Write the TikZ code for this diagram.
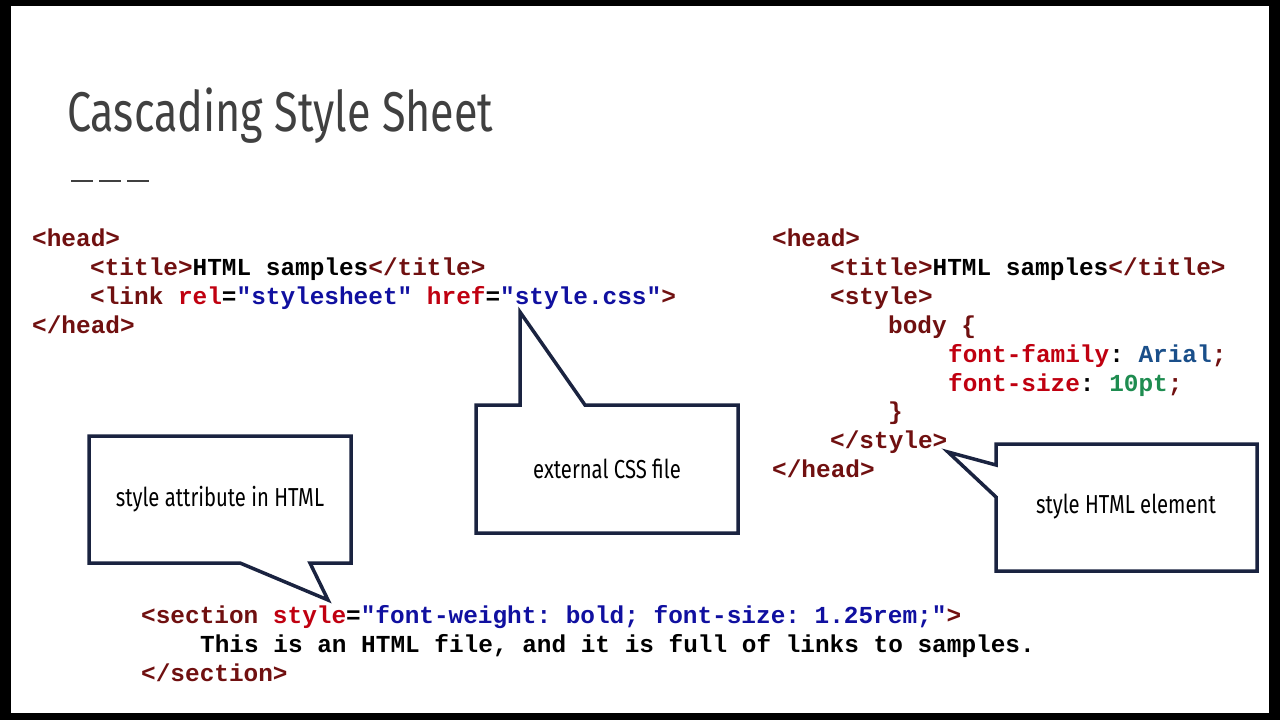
\documentclass[tikz,border=0pt]{standalone}
\usepackage{fontspec}
\usepackage{graphicx}
\setmainfont{Fira Sans}
\newfontfamily\codefont{Liberation Mono}[BoldFont={Liberation Mono Bold}]
\definecolor{tagc}{HTML}{701010}
\definecolor{attc}{HTML}{C00010}
\definecolor{strc}{HTML}{1010A0}
\definecolor{arialc}{HTML}{1A4F8A}
\definecolor{numc}{HTML}{1E8C50}
\definecolor{boxc}{HTML}{1A2340}
\definecolor{titc}{HTML}{404040}
\newcommand{\tg}[1]{\textcolor{tagc}{#1}}
\newcommand{\atr}[1]{\textcolor{attc}{#1}}
\newcommand{\sr}[1]{\textcolor{strc}{#1}}
\newcommand{\narrow}[1]{\scalebox{0.78}[1]{#1}}
\frenchspacing
\begin{document}
\begin{tikzpicture}[x=1pt,y=-1pt,
  code/.style={anchor=base west,inner sep=0,font=\codefont\bfseries\fontsize{24.4}{28}\selectfont},
  callout/.style={draw=boxc,line width=3.5pt,fill=white,line join=miter},
  ctext/.style={font=\fontsize{26}{30}\selectfont,text=black}]
\useasboundingbox (0,0) rectangle (1280,720);
\fill[black] (0,0) rectangle (1280,720);
\fill[white] (11,6) rectangle (1269,713);
\node (title) [anchor=base west,inner sep=0,text=titc,font=\fontsize{56}{60}\selectfont] at (67,131) {\scalebox{0.77}[1]{Cascading Style Sheet}};
\foreach \i/\x in {1/71,2/99,3/127}{\draw[titc,line width=2pt] (\x,181) -- ++(22,0) coordinate (d\i);}
% left code
\node (l1) [code] at (32,246) {\tg{<head>}};
\node (l2) [code] at (90,275) {\tg{<title>}HTML samples\tg{</title>}};
\node (l3) [code] at (90,304) {\tg{<link} \atr{rel}=\sr{"stylesheet"} \atr{href}=\sr{"style.css"}\tg{>}};
\node (l4) [code] at (32,333) {\tg{</head>}};
% right code
\node (r1) [code] at (772,246) {\tg{<head>}};
\node (r2) [code] at (830,275) {\tg{<title>}HTML samples\tg{</title>}};
\node (r3) [code] at (830,304) {\tg{<style>}};
\node (r4) [code] at (888,333) {\tg{body \{}};
\node (r5) [code] at (948,362) {\atr{font-family}: \textcolor{arialc}{Arial}\tg{;}};
\node (r6) [code] at (948,391) {\atr{font-size}: \textcolor{numc}{10pt}\tg{;}};
\node (r7) [code] at (888,419) {\tg{\}}};
\node (r8) [code] at (830,448) {\tg{</style>}};
\node (r9) [code] at (772,477) {\tg{</head>}};
% bottom code
\node (b1) [code] at (141,623) {\tg{<section} \atr{style}=\sr{"font-weight: bold; font-size: 1.25rem;"}\tg{>}};
\node (b2) [code] at (200,652) {This is an HTML file, and it is full of links to samples.};
\node (b3) [code] at (141,681) {\tg{</section>}};
% callouts
\draw[callout] (476,405) -- (520,405) -- (520,312) -- (585,405) -- (738,405) -- (738,533) -- (476,533) -- cycle;
\node (c1) [ctext] at (607,469) {\narrow{external CSS file}};
\draw[callout] (89,436) -- (351,436) -- (351,563) -- (310,563) -- (328,600) -- (240,563) -- (89,563) -- cycle;
\node (c2) [ctext] at (220,499) {\narrow{style attribute in HTML}};
\draw[callout] (996,444) -- (1257,444) -- (1257,571) -- (996,571) -- (996,497) -- (948,452) -- (996,465) -- cycle;
\node (c3) [ctext] at (1126,507) {\narrow{style HTML element}};
\end{tikzpicture}
\end{document}
